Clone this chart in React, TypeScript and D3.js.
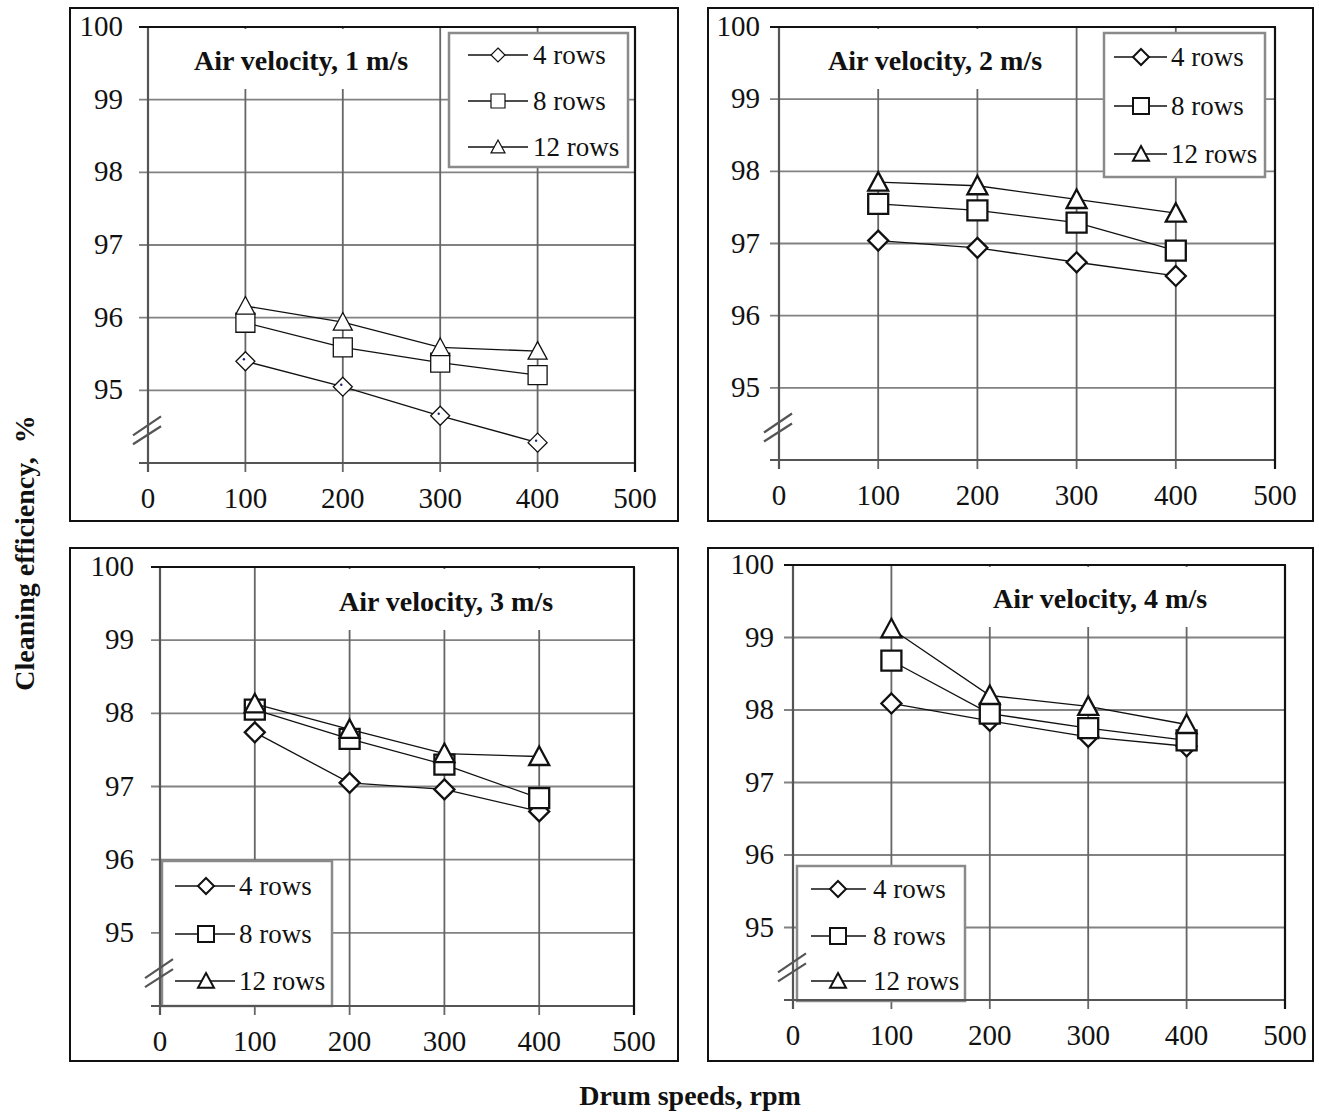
import React, { useEffect, useRef } from "react";
import * as d3 from "d3";

// ---- data ----
const drumSpeeds = [100, 200, 300, 400];
const xTicks = [0, 100, 200, 300, 400, 500];
const yTicks = [95, 96, 97, 98, 99, 100];
const seriesNames = ["4 rows", "8 rows", "12 rows"];
const seriesShapes = ["diamond", "square", "triangle"];
const panelTitles = [
  "Air velocity, 1 m/s",
  "Air velocity, 2 m/s",
  "Air velocity, 3 m/s",
  "Air velocity, 4 m/s",
];

const v1Rows4 = [95.4, 95.05, 94.65, 94.28];
const v1Rows8 = [95.93, 95.59, 95.38, 95.21];
const v1Rows12 = [96.16, 95.94, 95.59, 95.54];

const v2Rows4 = [97.04, 96.94, 96.74, 96.55];
const v2Rows8 = [97.55, 97.46, 97.29, 96.9];
const v2Rows12 = [97.85, 97.8, 97.61, 97.42];

const v3Rows4 = [97.74, 97.05, 96.96, 96.66];
const v3Rows8 = [98.05, 97.65, 97.3, 96.84];
const v3Rows12 = [98.13, 97.78, 97.45, 97.41];

const v4Rows4 = [98.09, 97.85, 97.63, 97.5];
const v4Rows8 = [98.68, 97.95, 97.75, 97.58];
const v4Rows12 = [99.12, 98.2, 98.05, 97.8];

const panelSeries = [
  [v1Rows4, v1Rows8, v1Rows12],
  [v2Rows4, v2Rows8, v2Rows12],
  [v3Rows4, v3Rows8, v3Rows12],
  [v4Rows4, v4Rows8, v4Rows12],
];

// ---- layout ----
const layouts = [
  {
    frame: [70, 8, 678, 521], x0: 148, x1: 635, yTop: 27, yBot: 463,
    tcx: 301, tcy: 62, yLabGap: 25,
    legend: { x: 449, y: 33, w: 179, h: 134, rows: [55, 101, 147], l0: 468, l1: 528, mx: 498, tx: 533 },
    mSize: 19, mStroke: 1.3, lSize: 14, lStroke: 1.2, dot: true,
  },
  {
    frame: [708, 8, 1313, 521], x0: 779, x1: 1275, yTop: 27, yBot: 460,
    tcx: 935, tcy: 62, yLabGap: 19,
    legend: { x: 1104, y: 33, w: 161, h: 144, rows: [57, 106, 154], l0: 1114, l1: 1167, mx: 1141, tx: 1171 },
    mSize: 20, mStroke: 2.3, lSize: 16, lStroke: 2, dot: false,
  },
  {
    frame: [70, 548, 678, 1061], x0: 160, x1: 634, yTop: 567, yBot: 1006,
    tcx: 446, tcy: 603, yLabGap: 26,
    legend: { x: 162, y: 861, w: 170, h: 145, rows: [886, 934, 981], l0: 175, l1: 235, mx: 206, tx: 239 },
    mSize: 20, mStroke: 2.3, lSize: 16, lStroke: 2, dot: false,
  },
  {
    frame: [708, 548, 1313, 1061], x0: 793, x1: 1285, yTop: 565, yBot: 1000,
    tcx: 1100, tcy: 600, yLabGap: 19,
    legend: { x: 797, y: 866, w: 168, h: 135, rows: [889, 936, 981], l0: 811, l1: 866, mx: 838, tx: 873 },
    mSize: 20, mStroke: 2.3, lSize: 16, lStroke: 2, dot: false,
  },
];

const FONT = "'Liberation Serif', 'Times New Roman', serif";
const GRID = "#828282";
const AXIS = "#555";

function markerPath(shape: string, s: number): string {
  const h = s / 2;
  if (shape === "diamond") return `M0,${-h}L${h},0L0,${h}L${-h},0Z`;
  if (shape === "square") return `M${-h},${-h}H${h}V${h}H${-h}Z`;
  return `M0,${-h}L${h},${h * 0.85}L${-h},${h * 0.85}Z`;
}

export default function App() {
  const ref = useRef<SVGSVGElement | null>(null);

  useEffect(() => {
    const svg = d3.select(ref.current);
    svg.selectAll("*").remove();
    svg.append("rect").attr("width", 1319).attr("height", 1114).attr("fill", "white");

    layouts.forEach((p, pi) => {
      const g = svg.append("g");
      const [fx0, fy0, fx1, fy1] = p.frame;
      g.append("rect")
        .attr("x", fx0).attr("y", fy0)
        .attr("width", fx1 - fx0).attr("height", fy1 - fy0)
        .attr("fill", "white").attr("stroke", "#111").attr("stroke-width", 2);

      const x = d3.scaleLinear().domain([0, 500]).range([p.x0, p.x1]);
      const y = d3.scaleLinear().domain([94, 100]).range([p.yBot, p.yTop]);

      // gridlines
      yTicks.filter((t) => t < 100).forEach((t) => {
        g.append("line")
          .attr("x1", x(0) - 9).attr("x2", x(500))
          .attr("y1", y(t)).attr("y2", y(t))
          .attr("stroke", GRID).attr("stroke-width", 1.8);
      });
      xTicks.filter((t) => t > 0 && t < 500).forEach((t) => {
        g.append("line")
          .attr("x1", x(t)).attr("x2", x(t))
          .attr("y1", y(100)).attr("y2", y(94) + 9)
          .attr("stroke", "#666").attr("stroke-width", 1.8);
      });

      // title with white box
      const title = g.append("text")
        .attr("x", p.tcx).attr("y", p.tcy + 8)
        .attr("text-anchor", "middle")
        .attr("font-family", FONT).attr("font-weight", "bold")
        .attr("font-size", 28).attr("fill", "#111")
        .text(panelTitles[pi]);
      const tb = (title.node() as SVGTextElement).getBBox();
      g.insert("rect", () => title.node())
        .attr("x", tb.x - 10).attr("y", y(100) + 2)
        .attr("width", tb.width + 20).attr("height", p.tcy + 27 - (y(100) + 2))
        .attr("fill", "white");

      // legend box
      const L = p.legend;
      g.append("rect")
        .attr("x", L.x).attr("y", L.y).attr("width", L.w).attr("height", L.h)
        .attr("fill", "white").attr("stroke", "#8a8a8a").attr("stroke-width", 2.5);

      // axes & borders
      g.append("line").attr("x1", x(0)).attr("x2", x(0))
        .attr("y1", y(100)).attr("y2", y(94) + 9)
        .attr("stroke", AXIS).attr("stroke-width", 2.2);
      g.append("line").attr("x1", x(0) - 9).attr("x2", x(500))
        .attr("y1", y(94)).attr("y2", y(94))
        .attr("stroke", AXIS).attr("stroke-width", 2.2);
      g.append("line").attr("x1", x(0) - 9).attr("x2", x(500) + 1)
        .attr("y1", y(100)).attr("y2", y(100))
        .attr("stroke", "#111").attr("stroke-width", 2.2);
      g.append("line").attr("x1", x(500)).attr("x2", x(500))
        .attr("y1", y(100)).attr("y2", y(94) + 9)
        .attr("stroke", "#111").attr("stroke-width", 2.2);

      // axis break marks
      const yc = y(94.45);
      [[5, -14], [14, -4]].forEach(([a, b]) => {
        g.append("line")
          .attr("x1", x(0) - 15).attr("y1", yc + a)
          .attr("x2", x(0) + 13).attr("y2", yc + b)
          .attr("stroke", AXIS).attr("stroke-width", 2.2);
      });

      // tick labels
      yTicks.forEach((t) => {
        g.append("text")
          .attr("x", x(0) - p.yLabGap).attr("y", y(t) + 9)
          .attr("text-anchor", "end")
          .attr("font-family", FONT).attr("font-size", 29).attr("fill", "#111")
          .text(String(t));
      });
      xTicks.forEach((t) => {
        g.append("text")
          .attr("x", x(t)).attr("y", y(94) + 45)
          .attr("text-anchor", "middle")
          .attr("font-family", FONT).attr("font-size", 29).attr("fill", "#111")
          .text(String(t));
      });

      // legend entries
      seriesNames.forEach((name, si) => {
        const ry = L.rows[si];
        g.append("line").attr("x1", L.l0).attr("x2", L.l1)
          .attr("y1", ry).attr("y2", ry)
          .attr("stroke", "#111").attr("stroke-width", 1.3);
        g.append("path")
          .attr("d", markerPath(seriesShapes[si], p.lSize))
          .attr("transform", `translate(${L.mx},${ry})`)
          .attr("fill", "white").attr("stroke", "#111").attr("stroke-width", p.lStroke);
        g.append("text")
          .attr("x", L.tx).attr("y", ry + 9)
          .attr("font-family", FONT).attr("font-size", 27).attr("fill", "#111")
          .text(name);
      });

      // series
      const line = d3.line<number>()
        .x((_, i) => x(drumSpeeds[i]))
        .y((d) => y(d));
      panelSeries[pi].forEach((vals, si) => {
        g.append("path").attr("d", line(vals) as string)
          .attr("fill", "none").attr("stroke", "#111").attr("stroke-width", 1.3);
        vals.forEach((v, i) => {
          g.append("path")
            .attr("d", markerPath(seriesShapes[si], p.mSize))
            .attr("transform", `translate(${x(drumSpeeds[i])},${y(v)})`)
            .attr("fill", "white").attr("stroke", "#111").attr("stroke-width", p.mStroke);
          if (p.dot && si === 0) {
            g.append("circle")
              .attr("cx", x(drumSpeeds[i]) - 1.5).attr("cy", y(v) - 2)
              .attr("r", 1.2).attr("fill", "#1a237e");
          }
        });
      });
    });

    // axis titles
    svg.append("text")
      .attr("transform", "translate(34,553) rotate(-90)")
      .attr("text-anchor", "middle")
      .attr("font-family", FONT).attr("font-weight", "bold")
      .attr("font-size", 28).attr("fill", "#111")
      .attr("xml:space", "preserve")
      .text("Cleaning efficiency,  %");
    svg.append("text")
      .attr("x", 690).attr("y", 1105)
      .attr("text-anchor", "middle")
      .attr("font-family", FONT).attr("font-weight", "bold")
      .attr("font-size", 28).attr("fill", "#111")
      .text("Drum speeds, rpm");
  }, []);

  return (
    <svg
      ref={ref}
      width={1319}
      height={1114}
      style={{ position: "absolute", left: 0, top: 0, display: "block" }}
    />
  );
}
